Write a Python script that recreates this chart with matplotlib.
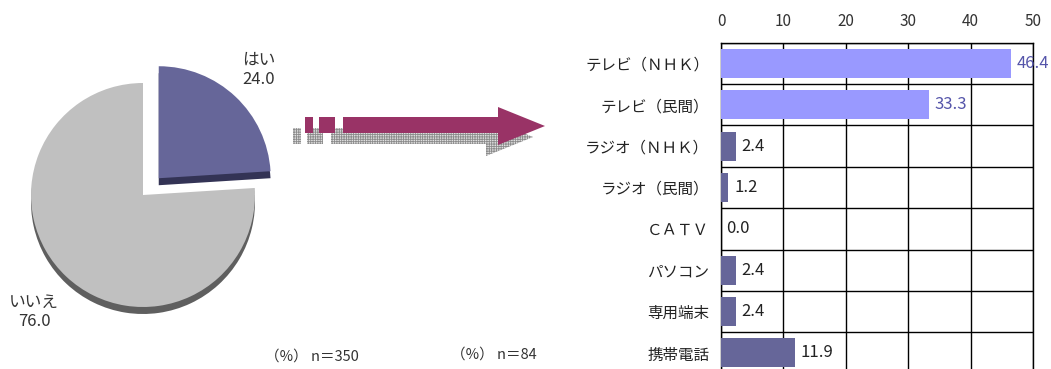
import numpy as np
import matplotlib
matplotlib.use("Agg")
import matplotlib.pyplot as plt
from matplotlib.patches import Polygon

plt.rcParams["font.family"] = ["Noto Sans CJK JP", "DejaVu Sans"]
plt.rcParams["hatch.linewidth"] = 0.6

""" data """

pie_labels = ["はい", "いいえ"]
pie_values = [24.0, 76.0]
pie_colors = ["#666699", "#C0C0C0"]
pie_shadow = ["#333355", "#5F5F5F"]

categories = ["テレビ（ＮＨＫ）", "テレビ（民間）", "ラジオ（ＮＨＫ）", "ラジオ（民間）",
              "ＣＡＴＶ", "パソコン", "専用端末", "携帯電話"]
values = [46.4, 33.3, 2.4, 1.2, 0.0, 2.4, 2.4, 11.9]
bar_colors = ["#9999FF", "#9999FF"] + ["#666699"] * 6
label_colors = ["#5555AA", "#5555AA"] + ["#222222"] * 6
xticks = [0, 10, 20, 30, 40, 50]

W, H = 1051, 369

fig = plt.figure(figsize=(W / 100, H / 100), dpi=100)

# ---- pie + arrow, in pixel units (y measured from the bottom)
ax = fig.add_axes([0, 0, 1, 1])
cx, cy, r = 143, H - 195, 112
explode = [23, 0]  # pie() takes explode in data units -> pixels here

ax.pie(pie_values, startangle=90, counterclock=False, radius=r,
       center=(cx, cy - 7), explode=explode, colors=pie_shadow,
       wedgeprops=dict(linewidth=0))
ax.pie(pie_values, startangle=90, counterclock=False, radius=r,
       center=(cx, cy), explode=explode, colors=pie_colors,
       wedgeprops=dict(linewidth=0))

ax.text(242, H - 70, f"{pie_labels[0]}\n{pie_values[0]:.1f}", ha="left", va="center",
        fontsize=12, color="#333333", linespacing=1.15)
ax.text(34, H - 312, f"{pie_labels[1]}\n{pie_values[1]:.1f}", ha="center", va="center",
        fontsize=12, color="#333333", linespacing=1.15)


def arrow_shapes(dx, dy):
    shaft = [(343, 117), (498, 117), (498, 107), (545, 126), (498, 145), (498, 133), (343, 133)]
    dash1 = [(305, 117), (313, 117), (313, 133), (305, 133)]
    dash2 = [(319, 117), (335, 117), (335, 133), (319, 133)]
    return [[(x + dx, H - (y + dy)) for x, y in s] for s in (shaft, dash1, dash2)]


for s in arrow_shapes(-12, 11):
    ax.add_patch(Polygon(s, closed=True, facecolor="#E0E0E0", edgecolor="#8C8C8C",
                         hatch="+++++++", linewidth=0))
for s in arrow_shapes(0, 0):
    ax.add_patch(Polygon(s, closed=True, facecolor="#993366", linewidth=0))

ax.text(265, H - 357, "（%） n＝350", fontsize=10.5, color="#333333", va="center")
ax.text(451, H - 355, "（%） n＝84", fontsize=10.5, color="#333333", va="center")

ax.set_xlim(0, W)
ax.set_ylim(0, H)
ax.set_aspect("equal")
ax.axis("off")

# ---- bar chart
top, row = 42.7, 41.37
bottom = top + row * len(categories)
bx = fig.add_axes([721 / W, (H - bottom) / H, (1033 - 721) / W, (bottom - top) / H])
y = np.arange(len(categories))
bx.barh(y, values, height=0.7, color=bar_colors, zorder=3)
for i, v in enumerate(values):
    bx.text(v + 0.9, i, f"{v:.1f}", va="center", ha="left", fontsize=12,
            color=label_colors[i], zorder=4)

bx.set_xlim(0, 50)
bx.set_ylim(len(categories) - 0.5, -0.5)
bx.set_xticks(xticks)
bx.xaxis.tick_top()
bx.tick_params(axis="x", length=0, pad=9, labelsize=11, colors="#333333")
bx.set_yticks(y)
bx.set_yticklabels(categories)
bx.tick_params(axis="y", length=0, pad=8.5, labelsize=11.2, colors="#222222")
bx.set_yticks(np.arange(len(categories) + 1) - 0.5, minor=True)
bx.tick_params(axis="y", which="minor", length=0)
bx.grid(True, which="minor", axis="y", color="black", linewidth=1, zorder=1)
bx.grid(True, which="major", axis="x", color="black", linewidth=1, zorder=1)
for sp in bx.spines.values():
    sp.set_color("black")
    sp.set_linewidth(1)

fig.savefig("out.png", dpi=100)
